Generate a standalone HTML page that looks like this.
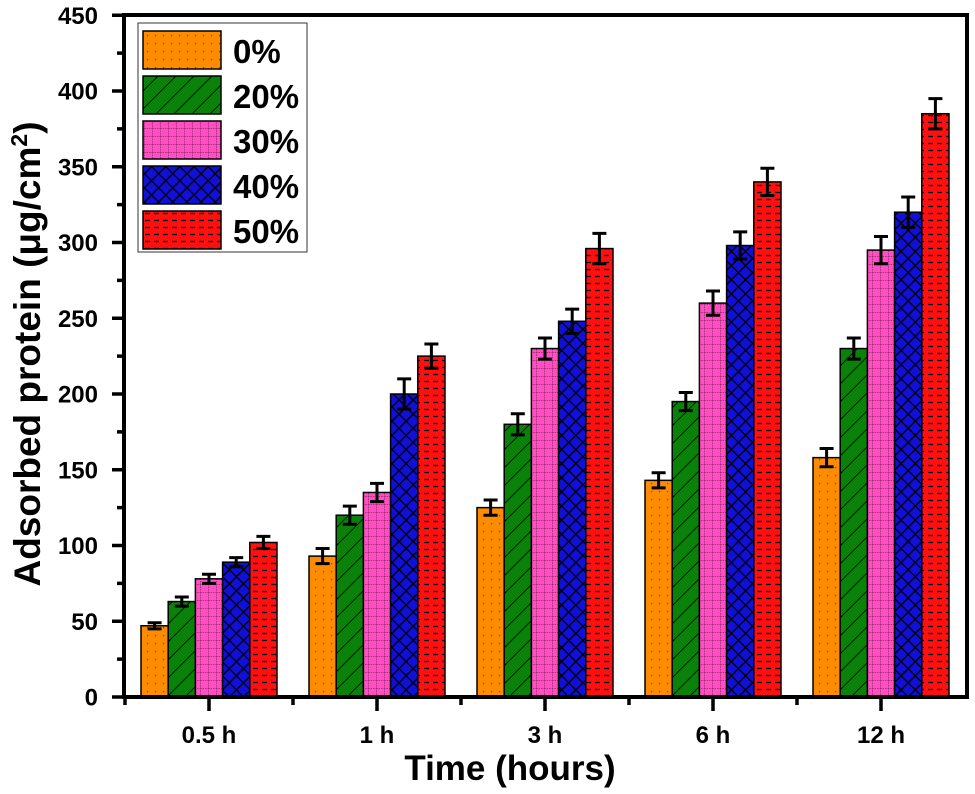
<!DOCTYPE html>
<html><head><meta charset="utf-8"><style>
body{margin:0;background:#fff}
svg text{font-family:"Liberation Sans",Arial,sans-serif;font-weight:bold;fill:#000}
</style></head><body>
<svg width="975" height="789" viewBox="0 0 975 789" xmlns="http://www.w3.org/2000/svg">
<defs>
<pattern id="p0" width="8" height="8" patternUnits="userSpaceOnUse"><rect width="8" height="8" fill="#ff8c00"/><rect x="3" y="3" width="1.2" height="1.2" fill="#553"/></pattern>
<pattern id="p1" width="18" height="18" patternUnits="userSpaceOnUse"><rect width="18" height="18" fill="#0a820a"/><path d="M0 18L18 0M-4 4L4 -4M14 22L22 14" stroke="#000" stroke-width="0.9"/></pattern>
<pattern id="p2" width="8" height="8" patternUnits="userSpaceOnUse"><rect width="8" height="8" fill="#ff4fc0"/><path d="M0 0.5H8M0.5 0V8" stroke="#8a2a6a" stroke-width="0.8" stroke-dasharray="1.5 1"/></pattern>
<pattern id="p3" width="10" height="10" patternUnits="userSpaceOnUse" patternTransform="rotate(45)"><rect width="10" height="10" fill="#1010d8"/><path d="M0 0.5H10M5 0V10" stroke="#000" stroke-width="1.4"/></pattern>
<pattern id="p4" width="9" height="7" patternUnits="userSpaceOnUse"><rect width="9" height="7" fill="#ff1010"/><path d="M1 3.5H6" stroke="#000" stroke-width="1.3"/></pattern>
</defs>
<g id="plot"></g>
<rect x="124" y="15" width="843" height="682" fill="none" stroke="#000" stroke-width="4"/>
<g id="legend"></g>
<text x="0" y="0" transform="translate(40,354) rotate(-90)" text-anchor="middle" font-size="37">Adsorbed protein (μg/cm<tspan dy="-13" font-size="23">2</tspan><tspan dy="13">)</tspan></text>
<text x="510" y="780" text-anchor="middle" font-size="35">Time (hours)</text>
</svg>
<script>
const categories=["0.5 h","1 h","3 h","6 h","12 h"];
const seriesNames=["0%","20%","30%","40%","50%"];
const s0=[47,93,125,143,158];
const s1=[63,120,180,195,230];
const s2=[78,135,230,260,295];
const s3=[89,200,248,298,320];
const s4=[102,225,296,340,385];
const e0=[2,5,5,5,6];
const e1=[3,6,7,6,7];
const e2=[3,6,7,8,9];
const e3=[3,10,8,9,10];
const e4=[4,8,10,9,10];
const yTicks=[0,50,100,150,200,250,300,350,400,450];
const series=[s0,s1,s2,s3,s4], errs=[e0,e1,e2,e3,e4];
const NS="http://www.w3.org/2000/svg";
const y0=697, yScale=606/400;
const Y=v=>y0-v*yScale;
const X=i=>209+i*168;
const bw=27.2;
const plot=document.getElementById('plot');
function mk(t,a,p){const e=document.createElementNS(NS,t);for(const k in a)e.setAttribute(k,a[k]);(p||plot).appendChild(e);return e;}
yTicks.forEach(v=>{
 const l=mk('line',{x1:112,x2:124,y1:Y(v),y2:Y(v),stroke:'#000','stroke-width':3.5});
 
 
 if(v<450){const m=mk('line',{x1:117,x2:124,y1:Y(v+25),y2:Y(v+25),stroke:'#000','stroke-width':3.5});
 
 }
 const t=mk('text',{x:98,y:Y(v)+8.5,'text-anchor':'end','font-size':24});t.textContent=v;
 
 
});
categories.forEach((c,i)=>{
 const l=mk('line',{x1:X(i),x2:X(i),y1:697,y2:711,stroke:'#000','stroke-width':3.5});
 
 
 const m=mk('line',{x1:X(i)-84,x2:X(i)-84,y1:697,y2:705,stroke:'#000','stroke-width':3.5});
 
 
 const t=mk('text',{x:X(i),y:743,'text-anchor':'middle','font-size':24});t.textContent=c;
 
 
 series.forEach((s,j)=>{
  const x=X(i)+(j-2.5)*bw, v=s[i], e=errs[j][i];
  const r=mk('rect',{x:x,y:Y(v),width:bw,height:y0-Y(v),fill:`url(#p${j})`,stroke:'#000','stroke-width':1.5});
  
  
  const cx=x+bw/2;
  const g=mk('path',{d:`M${cx} ${Y(v+e)}V${Y(v-e)}M${cx-7} ${Y(v+e)}H${cx+7}M${cx-7} ${Y(v-e)}H${cx+7}`,stroke:'#000','stroke-width':3,fill:'none'});
  
  
 });
});
const lg=document.getElementById('legend');
mk('rect',{x:138,y:23,width:169,height:229,fill:'#fff',stroke:'#333','stroke-width':1},lg);
seriesNames.forEach((n,j)=>{
 const yy=31+j*45;
 const r=mk('rect',{x:143,y:yy,width:78,height:38,fill:`url(#p${j})`,stroke:'#000','stroke-width':1.5},lg);
 
 
 const t=mk('text',{x:233,y:yy+32,'font-size':33},lg);t.textContent=n;
 
 
});
</script>
</body></html>
